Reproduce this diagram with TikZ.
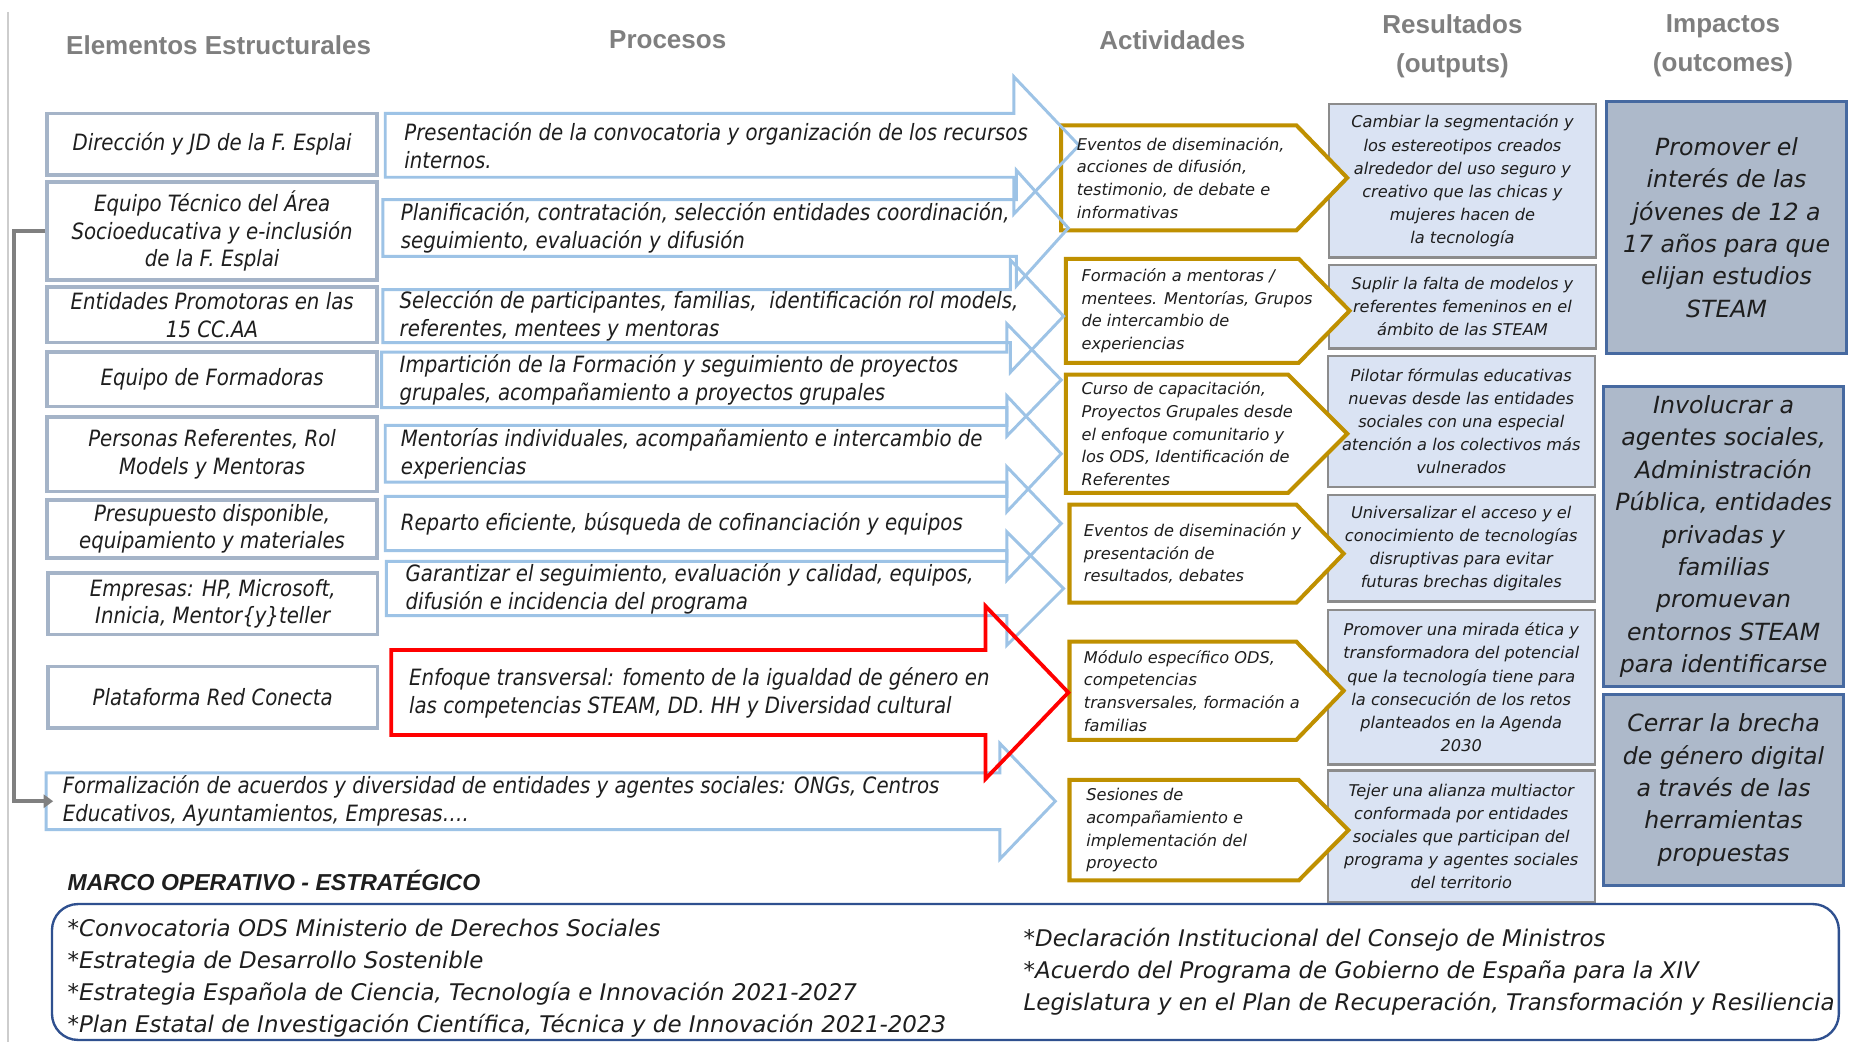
\documentclass[tikz,border=0pt]{standalone}
\usepackage{fontspec}
\setmainfont{DejaVu Sans}
\newfontfamily\fobl{DejaVu Sans Oblique}
\newfontfamily\fcnd[FakeStretch=0.88]{DejaVu Sans Oblique}
\newfontfamily\fhead{Liberation Sans Bold}
\newfontfamily\fmarco{Liberation Sans Bold Italic}
\usetikzlibrary{arrows.meta}
\definecolor{lborder}{RGB}{165,180,200}
\definecolor{pblue}{RGB}{157,195,230}
\definecolor{pred}{RGB}{255,0,0}
\definecolor{gold}{RGB}{191,144,0}
\definecolor{rfill}{RGB}{218,227,243}
\definecolor{rborder}{RGB}{140,140,140}
\definecolor{ifill}{RGB}{173,185,202}
\definecolor{iborder}{RGB}{70,105,160}
\definecolor{hgray}{RGB}{127,127,127}
\definecolor{bborder}{RGB}{47,80,143}
\definecolor{txt}{RGB}{30,30,30}
\definecolor{conngray}{RGB}{128,128,128}
\definecolor{pagegray}{RGB}{205,205,205}
% #1 style, #2 left, #3 top, #4 bottom, #5 shaft end, #6 tip, #7 overhang
\newcommand\procarrow[7]{\draw[#1] (#2,#3) -- (#5,#3) -- (#5,#3-#7) -- (#6,{(#3+#4)/2}) -- (#5,#4+#7) -- (#5,#4) -- (#2,#4) -- cycle;}
% #1 left, #2 top, #3 bottom, #4 rect right, #5 tip
\newcommand\actshape[5]{\draw[actb] (#1,#2) -- (#4,#2) -- (#5,{(#2+#3)/2}) -- (#4,#3) -- (#1,#3) -- cycle;}
\tikzset{
 hd/.style={font=\fhead\fontsize{22}{33}\selectfont, text=hgray, align=center, inner sep=0pt},
 lbox/.style={draw=lborder, line width=3pt, fill=white, align=center, text=txt, inner sep=0pt, minimum width=279pt, font=\fcnd\fontsize{19}{23.5}\selectfont},
 parr/.style={draw=pblue, line width=2.5pt, line join=miter},
 rarr/.style={draw=pred, line width=3.2pt, line join=miter},
 ptext/.style={anchor=west, align=left, text=txt, inner sep=0pt, font=\fcnd\fontsize{19}{23.5}\selectfont},
 actb/.style={draw=gold, line width=3.4pt, fill=white, line join=miter},
 atext/.style={anchor=west, align=left, text=txt, inner sep=0pt, font=\fobl\fontsize{13.7}{19.2}\selectfont},
 rbox/.style={draw=rborder, fill=rfill, line width=2pt, minimum width=226pt, align=center, text=txt, inner sep=0pt, font=\fobl\fontsize{13.7}{19.5}\selectfont},
 ibox/.style={draw=iborder, fill=ifill, line width=2.5pt, minimum width=203pt, align=center, text=txt, inner sep=0pt, font=\fobl\fontsize{20}{27.4}\selectfont},
 btext/.style={anchor=west, align=left, text=txt, inner sep=0pt, font=\fobl\fontsize{19.4}{27}\selectfont},
 mtext/.style={anchor=west, text=txt, inner sep=0pt, font=\fmarco\fontsize{19.5}{22}\selectfont},
 conn/.style={draw=conngray, line width=3pt, -{Triangle[length=8pt,width=11pt]}},
 pageline/.style={draw=pagegray, line width=1.5pt},
 botframe/.style={draw=bborder, line width=2pt, rounded corners=22pt},
}
\begin{document}
\begin{tikzpicture}[x=1pt,y=-1pt]
\useasboundingbox (0,0) rectangle (1568,882);
\fill[white] (0,0) rectangle (1568,882);
\draw[pageline] (7,10) -- (7,882);

% headers
\node[hd] (h1) at (185,38) {Elementos Estructurales};
\node[hd] (h2) at (565,34) {Procesos};
\node[hd] (h3) at (992,34) {Actividades};
\node[hd] (h4) at (1229,39) {Resultados\\(outputs)};
\node[hd] (h5) at (1458,39) {Impactos\\(outcomes)};

% results
\node[rbox, minimum height=130pt] (r1) at (1237.5,153) {Cambiar la segmentación y\\los estereotipos creados\\alrededor del uso seguro y\\creativo que las chicas y\\mujeres hacen de\\la tecnología};
\node[rbox, minimum height=71pt] (r2) at (1237.5,259.5) {Suplir la falta de modelos y\\referentes femeninos en el\\ámbito de las STEAM};
\node[rbox, minimum height=111pt] (r3) at (1236.5,356.5) {Pilotar fórmulas educativas\\nuevas desde las entidades\\sociales con una especial\\atención a los colectivos más\\vulnerados};
\node[rbox, minimum height=90pt] (r4) at (1236.5,464) {Universalizar el acceso y el\\conocimiento de tecnologías\\disruptivas para evitar\\futuras brechas digitales};
\node[rbox, minimum height=131pt] (r5) at (1236.5,581.5) {Promover una mirada ética y\\transformadora del potencial\\que la tecnología tiene para\\la consecución de los retos\\planteados en la Agenda\\2030};
\node[rbox, minimum height=111pt] (r6) at (1236.5,707.5) {Tejer una alianza multiactor\\conformada por entidades\\sociales que participan del\\programa y agentes sociales\\del territorio};

% impacts
\node[ibox, minimum height=213pt] (i1) at (1461,192.5) {Promover el\\interés de las\\jóvenes de 12 a\\17 años para que\\elijan estudios\\STEAM};
\node[ibox, minimum height=254pt] (i2) at (1458.5,454) {Involucrar a\\agentes sociales,\\Administración\\Pública, entidades\\privadas y\\familias\\promuevan\\entornos STEAM\\para identificarse};
\node[ibox, minimum height=161pt] (i3) at (1458.5,668.5) {Cerrar la brecha\\de género digital\\a través de las\\herramientas\\propuestas};

% activity shapes
\actshape{898}{106}{195}{1097}{1140}
\actshape{902}{219}{307}{1099}{1142}
\actshape{902}{317}{417}{1090}{1140}
\actshape{905}{427}{510}{1097}{1137}
\actshape{905}{543}{626}{1097}{1137}
\actshape{905}{660}{745}{1099}{1141}

% process arrows
\procarrow{parr}{326}{96}{150}{858}{913}{31}
\procarrow{parr}{324}{169}{217}{860}{904}{25}
\procarrow{parr}{324}{245}{290}{855}{900}{25}
\procarrow{parr}{323}{298}{345}{852}{898}{24}
\procarrow{parr}{326}{360}{408}{852}{898}{25}
\procarrow{parr}{326}{420}{466}{852}{898}{25}
\procarrow{parr}{327}{475}{521}{852}{900}{25}
\procarrow{parr}{39}{654}{702}{846}{893}{25}
\procarrow{rarr}{331}{550}{622}{834}{904}{37}

% structural elements
\node[lbox, minimum height=52pt] (e1) at (179.5,122) {Dirección y JD de la F. Esplai};
\node[lbox, minimum height=83pt] (e2) at (179.5,195.5) {Equipo Técnico del Área\\Socioeducativa y e-inclusión\\de la F. Esplai};
\node[lbox, minimum height=47pt] (e3) at (179.5,266.5) {Entidades Promotoras en las\\15 CC.AA};
\node[lbox, minimum height=46pt] (e4) at (179.5,321) {Equipo de Formadoras};
\node[lbox, minimum height=63pt] (e5) at (179.5,384.5) {Personas Referentes, Rol\\Models y Mentoras};
\node[lbox, minimum height=49pt] (e6) at (179.5,447.5) {Presupuesto disponible,\\equipamiento y materiales};
\node[lbox, minimum height=52pt] (e7) at (180,511) {Empresas: HP, Microsoft,\\Innicia, Mentor\{y\}teller};
\node[lbox, minimum height=52pt] (e8) at (180,590) {Plataforma Red Conecta};

% process texts
\node[ptext] (p1) at (342,123) {Presentación de la convocatoria y organización de los recursos\\internos.};
\node[ptext] (p2) at (339,193) {Planificación, contratación, selección entidades coordinación,\\seguimiento, evaluación y difusión};
\node[ptext] (p3) at (338,267.5) {Selección de participantes, familias,\ \ identificación rol models,\\referentes, mentees y mentoras};
\node[ptext] (p4) at (338,321.5) {Impartición de la Formación y seguimiento de proyectos\\grupales, acompañamiento a proyectos grupales};
\node[ptext] (p5) at (339,384) {Mentorías individuales, acompañamiento e intercambio de\\experiencias};
\node[ptext] (p6) at (339,443) {Reparto eficiente, búsqueda de cofinanciación y equipos};
\node[ptext] (p7) at (343,498) {Garantizar el seguimiento, evaluación y calidad, equipos,\\difusión e incidencia del programa};
\node[ptext] (p8) at (346,586) {Enfoque transversal: fomento de la igualdad de género en\\las competencias STEAM, DD. HH y Diversidad cultural};
\node[ptext] (p9) at (53,678) {Formalización de acuerdos y diversidad de entidades y agentes sociales: ONGs, Centros\\Educativos, Ayuntamientos, Empresas….};

% activity texts
\node[atext] (a1) at (911,150.5) {Eventos de diseminación,\\acciones de difusión,\\testimonio, de debate e\\informativas};
\node[atext] (a2) at (915,263) {Formación a mentoras /\\mentees. Mentorías, Grupos\\de intercambio de\\experiencias};
\node[atext] (a3) at (915,367) {Curso de capacitación,\\Proyectos Grupales desde\\el enfoque comunitario y\\los ODS, Identificación de\\Referentes};
\node[atext] (a4) at (917,468.5) {Eventos de diseminación y\\presentación de\\resultados, debates};
\node[atext] (a5) at (917,584.5) {Módulo específico ODS,\\competencias\\transversales, formación a\\familias};
\node[atext] (a6) at (919,702.5) {Sesiones de\\acompañamiento e\\implementación del\\proyecto};

% connector
\coordinate (cb) at (12,195.5);
\coordinate (p9w) at (45,678);
\draw[conn] (e2.west) -- (cb) |- (p9w);

% bottom frame
\node[mtext] (marco) at (57,745) {MARCO OPERATIVO - ESTRATÉGICO};
\draw[botframe] (44,765) rectangle (1556,880);
\node[btext] (b1) at (57,827.5) {*Convocatoria ODS Ministerio de Derechos Sociales\\*Estrategia de Desarrollo Sostenible\\*Estrategia Española de Ciencia, Tecnología e Innovación 2021-2027\\*Plan Estatal de Investigación Científica, Técnica y de Innovación 2021-2023};
\node[btext] (b2) at (866,822.5) {*Declaración Institucional del Consejo de Ministros\\*Acuerdo del Programa de Gobierno de España para la XIV\\Legislatura y en el Plan de Recuperación, Transformación y Resiliencia};
\end{tikzpicture}
\end{document}
